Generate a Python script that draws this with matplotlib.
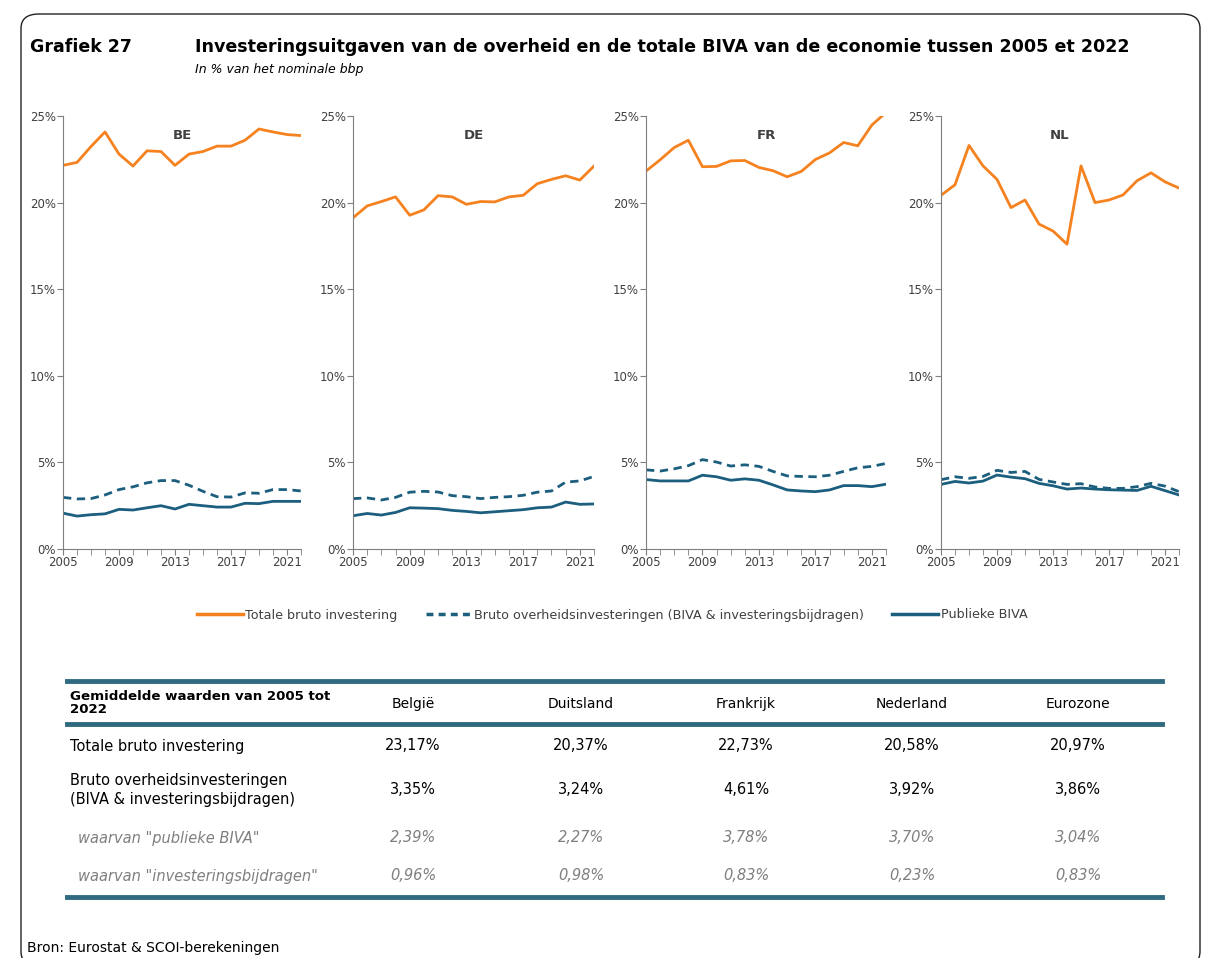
import matplotlib
matplotlib.use('Agg')
import matplotlib.pyplot as plt
from matplotlib.lines import Line2D
from matplotlib.patches import FancyBboxPatch

years = list(range(2005, 2023))

be_total = [22.15, 22.32, 23.24, 24.08, 22.80, 22.11, 22.99, 22.95, 22.15, 22.80, 22.95, 23.26, 23.26, 23.60, 24.25, 24.08, 23.93, 23.87]
be_gov = [2.98, 2.89, 2.91, 3.12, 3.43, 3.59, 3.82, 3.95, 3.95, 3.68, 3.33, 3.02, 3.00, 3.24, 3.22, 3.43, 3.43, 3.35]
be_biva = [2.07, 1.90, 1.98, 2.03, 2.29, 2.25, 2.38, 2.50, 2.31, 2.58, 2.50, 2.42, 2.42, 2.64, 2.62, 2.75, 2.75, 2.75]

de_total = [19.12, 19.81, 20.06, 20.33, 19.27, 19.58, 20.40, 20.33, 19.90, 20.06, 20.04, 20.33, 20.42, 21.09, 21.34, 21.55, 21.30, 22.11]
de_gov = [2.91, 2.95, 2.83, 2.98, 3.28, 3.33, 3.29, 3.08, 3.02, 2.91, 2.98, 3.02, 3.10, 3.28, 3.35, 3.86, 3.93, 4.19]
de_biva = [1.92, 2.05, 1.96, 2.11, 2.38, 2.36, 2.33, 2.23, 2.17, 2.09, 2.15, 2.21, 2.27, 2.38, 2.42, 2.71, 2.58, 2.60]

fr_total = [21.82, 22.47, 23.18, 23.60, 22.07, 22.09, 22.41, 22.43, 22.03, 21.84, 21.49, 21.80, 22.49, 22.87, 23.47, 23.28, 24.48, 25.20]
fr_gov = [4.57, 4.50, 4.63, 4.81, 5.16, 5.02, 4.79, 4.86, 4.77, 4.48, 4.22, 4.19, 4.17, 4.26, 4.48, 4.69, 4.77, 4.94]
fr_biva = [4.01, 3.93, 3.93, 3.93, 4.26, 4.17, 3.97, 4.05, 3.97, 3.70, 3.41, 3.35, 3.31, 3.41, 3.66, 3.66, 3.60, 3.74]

nl_total = [20.42, 21.03, 23.30, 22.12, 21.34, 19.71, 20.15, 18.76, 18.36, 17.60, 22.12, 20.00, 20.15, 20.44, 21.26, 21.72, 21.20, 20.84]
nl_gov = [4.00, 4.17, 4.08, 4.19, 4.54, 4.42, 4.48, 4.02, 3.87, 3.73, 3.77, 3.58, 3.50, 3.50, 3.60, 3.79, 3.63, 3.31]
nl_biva = [3.73, 3.90, 3.81, 3.92, 4.27, 4.15, 4.06, 3.79, 3.65, 3.46, 3.52, 3.46, 3.42, 3.40, 3.38, 3.62, 3.37, 3.12]

countries = ['BE', 'DE', 'FR', 'NL']
totals = [be_total, de_total, fr_total, nl_total]
govs = [be_gov, de_gov, fr_gov, nl_gov]
bivas = [be_biva, de_biva, fr_biva, nl_biva]

series_names = ['Totale bruto investering',
                'Bruto overheidsinvesteringen (BIVA & investeringsbijdragen)',
                'Publieke BIVA']

table_cols = ['België', 'Duitsland', 'Frankrijk', 'Nederland', 'Eurozone']
row_total = ['23,17%', '20,37%', '22,73%', '20,58%', '20,97%']
row_gov = ['3,35%', '3,24%', '4,61%', '3,92%', '3,86%']
row_biva = ['2,39%', '2,27%', '3,78%', '3,70%', '3,04%']
row_bijdr = ['0,96%', '0,98%', '0,83%', '0,23%', '0,83%']

orange = '#F5821F'
teal = '#1B5E7E'
line_col = '#2F6A80'
grey = '#7F7F7F'
txt = '#404040'

W, H = 1209, 958
fig = plt.figure(figsize=(W / 100, H / 100), dpi=100)

def fx(px):
    return px / W

def fy(py):
    return 1 - py / H

# border
fig.add_artist(FancyBboxPatch((fx(21), fy(966)), fx(1200) - fx(21), fy(14) - fy(966),
                              boxstyle='round,pad=0,rounding_size=0.015',
                              transform=fig.transFigure, fill=False,
                              edgecolor='#222222', linewidth=1))

fig.text(fx(30), fy(47), 'Grafiek 27', fontsize=12.5, fontweight='bold', va='center')
fig.text(fx(195), fy(47), 'Investeringsuitgaven van de overheid en de totale BIVA van de economie tussen 2005 et 2022',
         fontsize=12.6, fontweight='bold', va='center')
fig.text(fx(195), fy(69), 'In % van het nominale bbp', fontsize=9, style='italic', va='center')

lefts = [63, 353, 646, 941]
rights = [301, 594, 886, 1179]
top, bottom = 116, 549

for i, c in enumerate(countries):
    ax = fig.add_axes([fx(lefts[i]), fy(bottom), fx(rights[i] - lefts[i]), (bottom - top) / H])
    ax.plot(years, totals[i], color=orange, linewidth=2)
    ax.plot(years, govs[i], color=teal, linewidth=2, linestyle=(0, (3, 2)))
    ax.plot(years, bivas[i], color=teal, linewidth=2)
    ax.set_xlim(2005, 2022)
    ax.set_ylim(0, 25)
    ax.set_yticks([0, 5, 10, 15, 20, 25])
    ax.set_yticklabels(['0%', '5%', '10%', '15%', '20%', '25%'])
    ax.set_xticks([2005, 2009, 2013, 2017, 2021])
    ax.set_xticks(years, minor=True)
    ax.tick_params(axis='both', which='both', direction='out', color=grey,
                   labelsize=8.5, labelcolor=txt, length=4, pad=1)
    for s in ['top', 'right']:
        ax.spines[s].set_visible(False)
    for s in ['left', 'bottom']:
        ax.spines[s].set_color(grey)
    ax.text(0.5, 0.97, c, transform=ax.transAxes, ha='center', va='top',
            fontsize=9.5, fontweight='bold', color=txt)

handles = [Line2D([], [], color=orange, linewidth=2.5),
           Line2D([], [], color=teal, linewidth=2.5, linestyle=(0, (2, 1.5))),
           Line2D([], [], color=teal, linewidth=2.5)]
fig.legend(handles, series_names, loc='center', bbox_to_anchor=(fx(612), fy(615)),
           ncol=3, frameon=False, fontsize=9.2, handlelength=3.6, handletextpad=0.2,
           columnspacing=2.2, labelcolor=txt)

# table
tl, tr = 67, 1162
for yy in [681, 724, 897]:
    fig.add_artist(Line2D([fx(tl), fx(tr)], [fy(yy), fy(yy)], color=line_col, linewidth=3.5))

col_x = [413, 581, 746, 912, 1078]
fig.text(fx(70), fy(703), 'Gemiddelde waarden van 2005 tot\n2022', fontsize=9.6,
         fontweight='bold', va='center', linespacing=0.95)
for x, c in zip(col_x, table_cols):
    fig.text(fx(x), fy(704), c, fontsize=10, ha='center', va='center')

rows = [(746, 'Totale bruto investering', row_total, 'normal', 'black', 70),
        (790, 'Bruto overheidsinvesteringen\n(BIVA & investeringsbijdragen)', row_gov, 'normal', 'black', 70),
        (838, 'waarvan "publieke BIVA"', row_biva, 'italic', grey, 78),
        (876, 'waarvan "investeringsbijdragen"', row_bijdr, 'italic', grey, 78)]
for yy, label, vals, st, col, x0 in rows:
    fig.text(fx(x0), fy(yy), label, fontsize=10.5, style=st, color=col, va='center', linespacing=1.3)
    for x, v in zip(col_x, vals):
        fig.text(fx(x), fy(yy), v, fontsize=10.5, style=st, color=col, ha='center', va='center')

fig.text(fx(27), fy(941), 'Bron: Eurostat & SCOI-berekeningen', fontsize=10, va='top')

fig.savefig('out.png', dpi=100)
